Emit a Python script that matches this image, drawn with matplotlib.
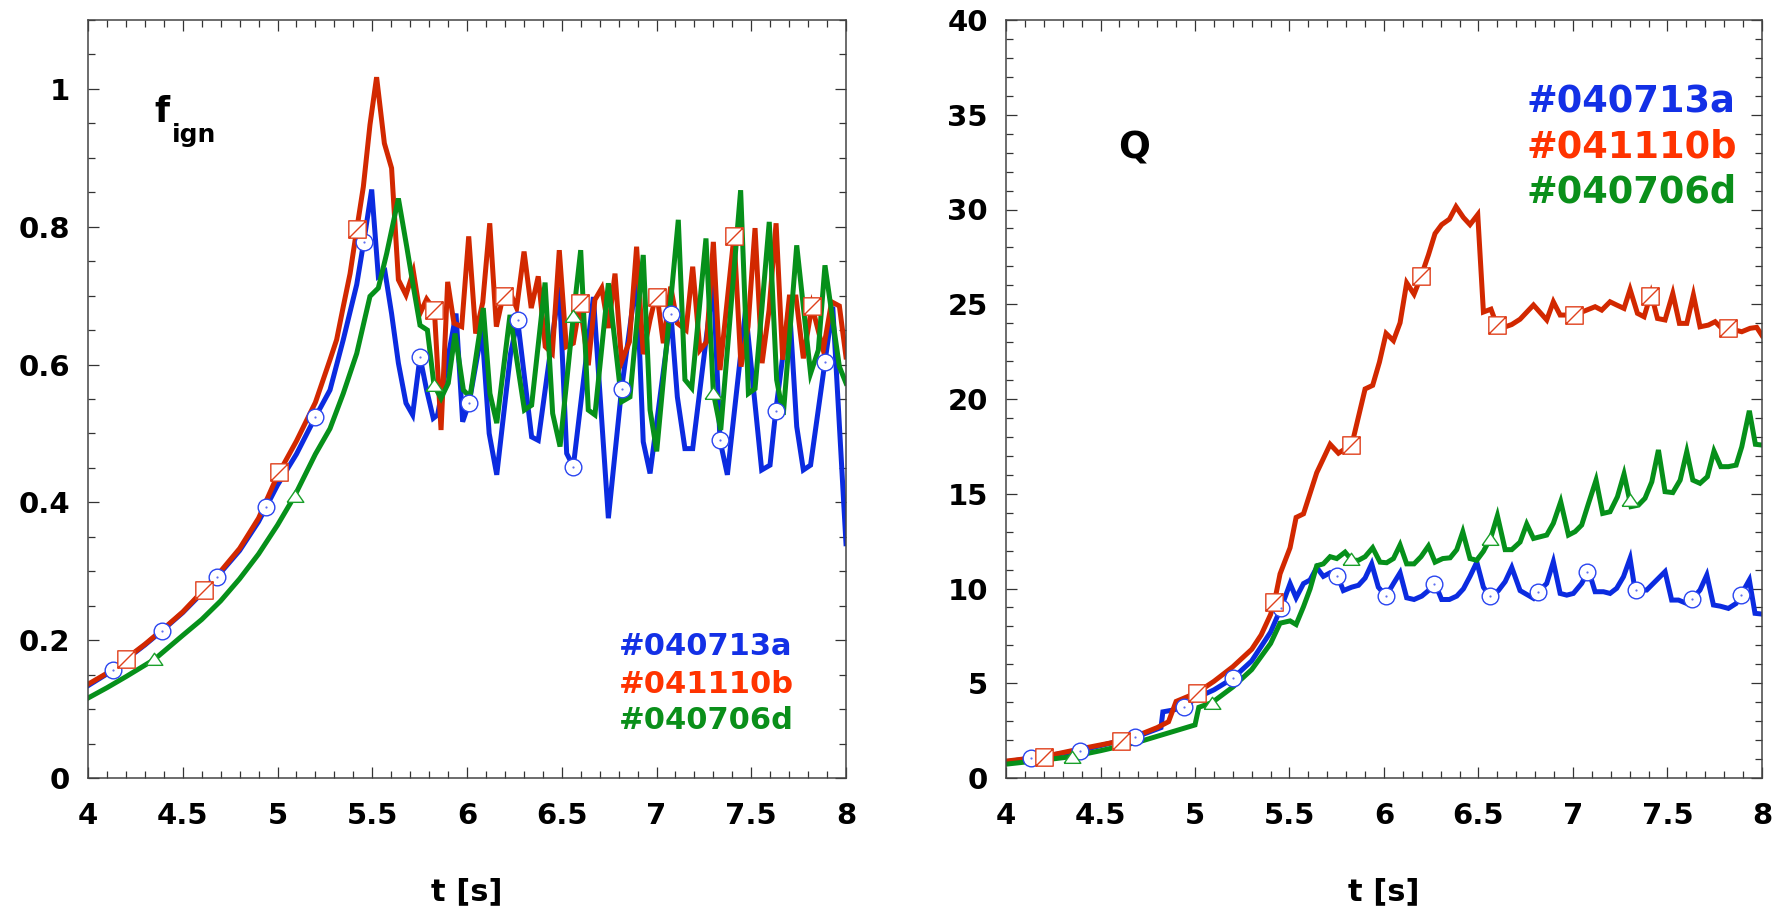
import numpy as np
import matplotlib
matplotlib.use("Agg")
import matplotlib.pyplot as plt
from matplotlib.path import Path
from matplotlib.ticker import MultipleLocator, FormatStrFormatter

# ---------------- data: ignition fraction (left) ----------------
t_fa = [4.00, 4.10, 4.20, 4.30, 4.40, 4.50, 4.60, 4.70, 4.80, 4.90, 5.00, 5.10, 5.20,
        5.277, 5.347, 5.418, 5.458, 5.497, 5.532, 5.567, 5.602, 5.638, 5.678, 5.713,
        5.752, 5.787, 5.822, 5.845, 5.942, 5.977, 6.011, 6.079, 6.117, 6.157, 6.230,
        6.267, 6.341, 6.376, 6.487, 6.526, 6.561, 6.667, 6.746, 6.816, 6.895, 6.930,
        6.966, 7.076, 7.110, 7.150, 7.191, 7.300, 7.335, 7.374, 7.470, 7.555, 7.599,
        7.629, 7.701, 7.740, 7.775, 7.813, 7.889, 7.930, 8.000]
f_a = [0.134, 0.151, 0.172, 0.193, 0.216, 0.240, 0.268, 0.298, 0.330, 0.372, 0.425, 0.470, 0.524,
       0.563, 0.636, 0.716, 0.783, 0.854, 0.728, 0.735, 0.674, 0.602, 0.544, 0.527,
       0.611, 0.563, 0.522, 0.527, 0.674, 0.517, 0.544, 0.650, 0.500, 0.440, 0.616,
       0.665, 0.495, 0.490, 0.713, 0.471, 0.452, 0.698, 0.377, 0.565, 0.727, 0.488,
       0.442, 0.674, 0.553, 0.478, 0.478, 0.722, 0.490, 0.440, 0.679, 0.447, 0.454,
       0.532, 0.686, 0.510, 0.447, 0.454, 0.604, 0.684, 0.340]

t_fb = [4.00, 4.10, 4.20, 4.30, 4.40, 4.50, 4.60, 4.70, 4.80, 4.90, 5.00, 5.10, 5.20,
        5.277, 5.312, 5.347, 5.383, 5.418, 5.453, 5.488, 5.523, 5.564, 5.602, 5.638,
        5.678, 5.717, 5.752, 5.787, 5.828, 5.863, 5.898, 5.931, 5.972, 6.009, 6.046,
        6.083, 6.120, 6.155, 6.190, 6.227, 6.262, 6.301, 6.339, 6.376, 6.413, 6.450,
        6.487, 6.524, 6.561, 6.596, 6.640, 6.675, 6.711, 6.746, 6.781, 6.816, 6.857,
        6.895, 6.930, 6.966, 7.001, 7.036, 7.075, 7.110, 7.156, 7.191, 7.229, 7.265,
        7.300, 7.335, 7.409, 7.446, 7.483, 7.520, 7.557, 7.594, 7.631, 7.666, 7.701,
        7.736, 7.775, 7.820, 7.880, 7.924, 7.965, 8.000]
f_b = [0.136, 0.152, 0.173, 0.194, 0.217, 0.241, 0.270, 0.300, 0.333, 0.377, 0.439, 0.489, 0.545,
       0.607, 0.636, 0.684, 0.732, 0.796, 0.858, 0.948, 1.017, 0.921, 0.885, 0.723,
       0.701, 0.735, 0.674, 0.695, 0.679, 0.505, 0.720, 0.660, 0.655, 0.786, 0.645,
       0.690, 0.805, 0.655, 0.699, 0.705, 0.682, 0.764, 0.682, 0.728, 0.626, 0.616,
       0.766, 0.626, 0.631, 0.689, 0.599, 0.694, 0.711, 0.653, 0.732, 0.604, 0.633,
       0.771, 0.615, 0.665, 0.705, 0.631, 0.713, 0.660, 0.650, 0.742, 0.621, 0.633,
       0.778, 0.592, 0.787, 0.597, 0.655, 0.798, 0.602, 0.679, 0.805, 0.607, 0.698,
       0.698, 0.609, 0.685, 0.621, 0.691, 0.685, 0.611]

t_fd = [4.00, 4.10, 4.20, 4.35, 4.50, 4.60, 4.70, 4.80, 4.90, 5.00, 5.09, 5.20,
        5.277, 5.347, 5.418, 5.488, 5.532, 5.576, 5.638, 5.682, 5.717, 5.752, 5.791,
        5.826, 5.863, 5.901, 5.937, 5.981, 6.016, 6.086, 6.121, 6.157, 6.227, 6.303,
        6.341, 6.412, 6.452, 6.491, 6.561, 6.600, 6.640, 6.675, 6.746, 6.816, 6.860,
        6.930, 6.966, 7.001, 7.115, 7.150, 7.186, 7.261, 7.300, 7.339, 7.444, 7.485,
        7.520, 7.595, 7.634, 7.669, 7.740, 7.813, 7.854, 7.889, 7.965, 8.000]
f_d = [0.116, 0.131, 0.147, 0.172, 0.207, 0.230, 0.257, 0.289, 0.325, 0.367, 0.409, 0.470,
       0.507, 0.558, 0.616, 0.699, 0.711, 0.761, 0.841, 0.771, 0.713, 0.657, 0.650,
       0.570, 0.551, 0.573, 0.645, 0.563, 0.553, 0.682, 0.558, 0.515, 0.672, 0.534,
       0.541, 0.719, 0.529, 0.481, 0.670, 0.766, 0.534, 0.527, 0.718, 0.546, 0.553,
       0.759, 0.534, 0.474, 0.810, 0.578, 0.566, 0.783, 0.559, 0.505, 0.853, 0.558,
       0.565, 0.807, 0.578, 0.527, 0.773, 0.587, 0.621, 0.744, 0.597, 0.573]

# ---------------- data: Q (right) ----------------
t_qa = [4.00, 4.127, 4.39, 4.688, 4.82, 4.83, 4.88, 4.943, 5.00, 5.10, 5.20, 5.30, 5.40,
        5.46, 5.503, 5.535, 5.574, 5.609, 5.644, 5.679, 5.715, 5.755, 5.785, 5.829,
        5.865, 5.900, 5.935, 5.970, 6.011, 6.050, 6.085, 6.120, 6.159, 6.200, 6.235,
        6.270, 6.305, 6.346, 6.385, 6.420, 6.455, 6.491, 6.526, 6.566, 6.605, 6.641,
        6.676, 6.720, 6.791, 6.822, 6.861, 6.896, 6.932, 6.967, 7.002, 7.046, 7.082,
        7.117, 7.161, 7.196, 7.231, 7.267, 7.302, 7.328, 7.390, 7.443, 7.487, 7.522,
        7.558, 7.602, 7.634, 7.672, 7.708, 7.743, 7.778, 7.822, 7.863, 7.893, 7.933,
        7.963, 8.000]
q_a = [0.85, 1.04, 1.44, 2.17, 2.66, 3.49, 3.58, 3.73, 4.19, 4.65, 5.26, 6.18, 7.70,
       9.09, 10.26, 9.51, 10.26, 10.45, 11.11, 10.64, 10.83, 10.64, 9.89, 10.07,
       10.17, 10.55, 11.30, 10.07, 9.60, 10.26, 10.83, 9.51, 9.42, 9.60, 9.89,
       10.26, 9.42, 9.42, 9.60, 9.98, 10.64, 11.39, 10.07, 9.51, 9.89, 10.36,
       11.11, 9.89, 9.48, 9.88, 10.27, 11.41, 9.74, 9.65, 9.74, 10.27, 10.97,
       9.83, 9.83, 9.74, 10.01, 10.62, 11.59, 9.92, 9.92, 10.45, 10.89, 9.39,
       9.39, 9.21, 9.48, 9.92, 10.71, 9.13, 9.07, 8.95, 9.21, 9.74, 10.45,
       8.69, 8.65]

t_qb = [4.00, 4.20, 4.40, 4.61, 4.70, 4.80, 4.86, 4.90, 5.01, 5.10, 5.20, 5.30, 5.35,
        5.40, 5.424, 5.45, 5.503, 5.535, 5.574, 5.644, 5.715, 5.759, 5.830, 5.900,
        5.940, 5.976, 6.011, 6.050, 6.085, 6.120, 6.159, 6.196, 6.235, 6.270, 6.305,
        6.346, 6.381, 6.420, 6.455, 6.496, 6.526, 6.566, 6.605, 6.676, 6.720, 6.791,
        6.861, 6.896, 6.932, 7.007, 7.117, 7.152, 7.196, 7.231, 7.270, 7.302, 7.341,
        7.376, 7.413, 7.447, 7.487, 7.528, 7.563, 7.602, 7.637, 7.672, 7.716, 7.752,
        7.787, 7.822, 7.893, 7.937, 7.972, 8.000]
q_b = [0.89, 1.13, 1.55, 1.96, 2.26, 2.66, 2.97, 4.04, 4.50, 5.10, 5.87, 6.79, 7.55,
       8.63, 9.48, 10.77, 12.15, 13.75, 13.94, 16.11, 17.61, 17.14, 17.60, 20.53,
       20.72, 21.95, 23.46, 23.08, 24.02, 26.13, 25.53, 26.47, 27.60, 28.73, 29.20,
       29.49, 30.15, 29.58, 29.20, 29.73, 24.59, 24.74, 23.68, 23.93, 24.21, 24.96,
       24.17, 25.13, 24.43, 24.43, 24.87, 24.69, 25.13, 24.96, 24.78, 25.78, 24.52,
       24.34, 25.57, 24.25, 24.17, 25.57, 23.99, 23.99, 25.49, 23.81, 23.90, 24.08,
       23.73, 23.73, 23.55, 23.73, 23.78, 23.35]

t_qd = [4.00, 4.20, 4.35, 4.50, 4.70, 4.80, 4.90, 5.00, 5.02, 5.09, 5.20, 5.30, 5.40,
        5.45, 5.503, 5.535, 5.574, 5.609, 5.644, 5.679, 5.715, 5.750, 5.794, 5.830,
        5.865, 5.900, 5.940, 5.979, 6.014, 6.050, 6.085, 6.120, 6.159, 6.196, 6.235,
        6.270, 6.311, 6.350, 6.385, 6.417, 6.455, 6.491, 6.526, 6.566, 6.600, 6.641,
        6.676, 6.720, 6.755, 6.791, 6.826, 6.861, 6.896, 6.935, 6.976, 7.011, 7.046,
        7.082, 7.122, 7.157, 7.196, 7.235, 7.270, 7.307, 7.346, 7.381, 7.417, 7.452,
        7.487, 7.528, 7.567, 7.602, 7.634, 7.672, 7.711, 7.746, 7.782, 7.822, 7.863,
        7.893, 7.933, 7.965, 8.000]
q_d = [0.73, 0.95, 1.13, 1.44, 1.90, 2.20, 2.50, 2.80, 3.73, 3.98, 4.80, 5.72, 7.10,
       8.17, 8.29, 8.10, 9.04, 9.98, 11.20, 11.30, 11.68, 11.58, 11.92, 11.49,
       11.49, 11.68, 12.15, 11.39, 11.36, 11.58, 12.30, 11.30, 11.30, 11.68, 12.24,
       11.39, 11.58, 11.62, 12.05, 12.99, 11.58, 11.49, 11.96, 12.71, 13.84, 12.05,
       12.05, 12.45, 13.40, 12.64, 12.73, 12.82, 13.44, 14.58, 12.82, 13.00, 13.35,
       14.49, 15.72, 13.96, 14.05, 14.84, 16.04, 14.32, 14.40, 14.76, 15.63, 17.31,
       15.11, 15.06, 15.72, 17.22, 15.72, 15.55, 15.90, 17.25, 16.43, 16.43, 16.51,
       17.48, 19.38, 17.61, 17.57]

# marker times for each shot
mk_a = [4.13, 4.39, 4.68, 4.94, 5.20, 5.455, 5.752, 6.011, 6.267, 6.561, 6.816, 7.076, 7.335, 7.629, 7.889]
mk_b = [4.20, 4.61, 5.01, 5.418, 5.828, 6.196, 6.596, 7.004, 7.409, 7.820]
mk_d = [4.35, 5.09, 5.826, 6.561, 7.30]

labels = ["#040713a", "#041110b", "#040706d"]
xticks = [4, 4.5, 5, 5.5, 6, 6.5, 7, 7.5, 8]

# ---------------- style ----------------
plt.rcParams['font.family'] = ['DejaVu Sans']
plt.rcParams['font.weight'] = 'bold'

BLUE, RED, GREEN = '#0b2be0', '#d22800', '#06901a'
TXT = ['#1330e6', '#ff3300', '#0a8f1a']
MEC = ['#2a45f0', '#e0401c', '#1aa02a']

sq_path = Path([(-1, -1), (1, -1), (1, 1), (-1, 1), (-1, -1), (-1, -1), (1, 1)],
               [Path.MOVETO, Path.LINETO, Path.LINETO, Path.LINETO, Path.CLOSEPOLY,
                Path.MOVETO, Path.LINETO])
tri_verts = [(-1, -0.7), (1, -0.7), (0, 0.75), (-1, -0.7)]

fig = plt.figure(figsize=(17.8, 9.09), dpi=100)
W, H = 1780, 909
ax1 = fig.add_axes([88 / W, (H - 778) / H, 758 / W, 758 / H])
ax2 = fig.add_axes([1006 / W, (H - 778) / H, 756 / W, 758 / H])


def draw(ax, ta, ya, tb, yb, td, yd):
    ax.plot(ta, ya, color=BLUE, lw=3.6, zorder=2, solid_joinstyle='miter')
    ax.plot(tb, yb, color=RED, lw=3.6, zorder=2, solid_joinstyle='miter')
    ax.plot(td, yd, color=GREEN, lw=3.6, zorder=2, solid_joinstyle='miter')
    # markers placed on the plotted curves
    ma = np.interp(mk_a, ta, ya)
    mb = np.interp(mk_b, tb, yb)
    md = np.interp(mk_d, td, yd)
    ax.plot(mk_a, ma, ls='none', marker='o', ms=12, mfc='white', mec=MEC[0], mew=1.0, zorder=4)
    ax.plot(mk_a, ma, ls='none', marker='o', ms=1.6, mfc='#6070f0', mec='none', zorder=5)
    ax.plot(mk_b, mb, ls='none', marker=sq_path, ms=12.5, mfc='white', mec=MEC[1], mew=1.0, zorder=4)
    ax.plot(mk_d, md, ls='none', marker=tri_verts, ms=12, mfc='white', mec=MEC[2], mew=1.0, zorder=4)


def style(ax, ymax, ymaj, ymin, fmt):
    ax.set_xlim(4, 8)
    ax.set_ylim(0, ymax)
    ax.set_xticks(xticks)
    ax.xaxis.set_major_formatter(FormatStrFormatter('%g'))
    ax.xaxis.set_minor_locator(MultipleLocator(0.1))
    ax.yaxis.set_major_locator(MultipleLocator(ymaj))
    ax.yaxis.set_minor_locator(MultipleLocator(ymin))
    ax.yaxis.set_major_formatter(FormatStrFormatter(fmt))
    ax.tick_params(which='both', direction='in', top=True, right=True,
                   width=0.9, color='#333333', labelsize=21)
    ax.tick_params(which='major', length=8)
    ax.tick_params(which='minor', length=5)
    ax.tick_params(axis='x', pad=17)
    ax.tick_params(axis='y', pad=13)
    for s in ax.spines.values():
        s.set_linewidth(1.1)
        s.set_color('#444444')
    ax.text(0.5, -0.150, 't [s]', transform=ax.transAxes, ha='center', va='center',
            fontsize=22, fontweight='bold')


draw(ax1, t_fa, f_a, t_fb, f_b, t_fd, f_d)
style(ax1, 1.1, 0.2, 0.05, '%g')
draw(ax2, t_qa, q_a, t_qb, q_b, t_qd, q_d)
style(ax2, 40, 5, 1, '%g')

# panel labels
ax1.text(4.35, 0.952, 'f', fontsize=25, fontweight='bold', ha='left', va='baseline')
ax1.text(4.44, 0.923, 'ign', fontsize=18, fontweight='bold', ha='left', va='baseline')
ax2.text(4.677, 32.7, 'Q', fontsize=27, fontweight='bold', ha='center', va='baseline')

# shot labels
for i, (lab, y) in enumerate(zip(labels, [0.1623, 0.1121, 0.0646])):
    ax1.text(0.700, y, lab, transform=ax1.transAxes, fontsize=22, fontweight='bold',
             color=TXT[i], ha='left', va='baseline')
for i, (lab, y) in enumerate(zip(labels, [0.878, 0.8186, 0.7592])):
    ax2.text(0.689, y, lab, transform=ax2.transAxes, fontsize=26.5, fontweight='bold',
             color=TXT[i], ha='left', va='baseline')

fig.savefig('out.png', dpi=100)
